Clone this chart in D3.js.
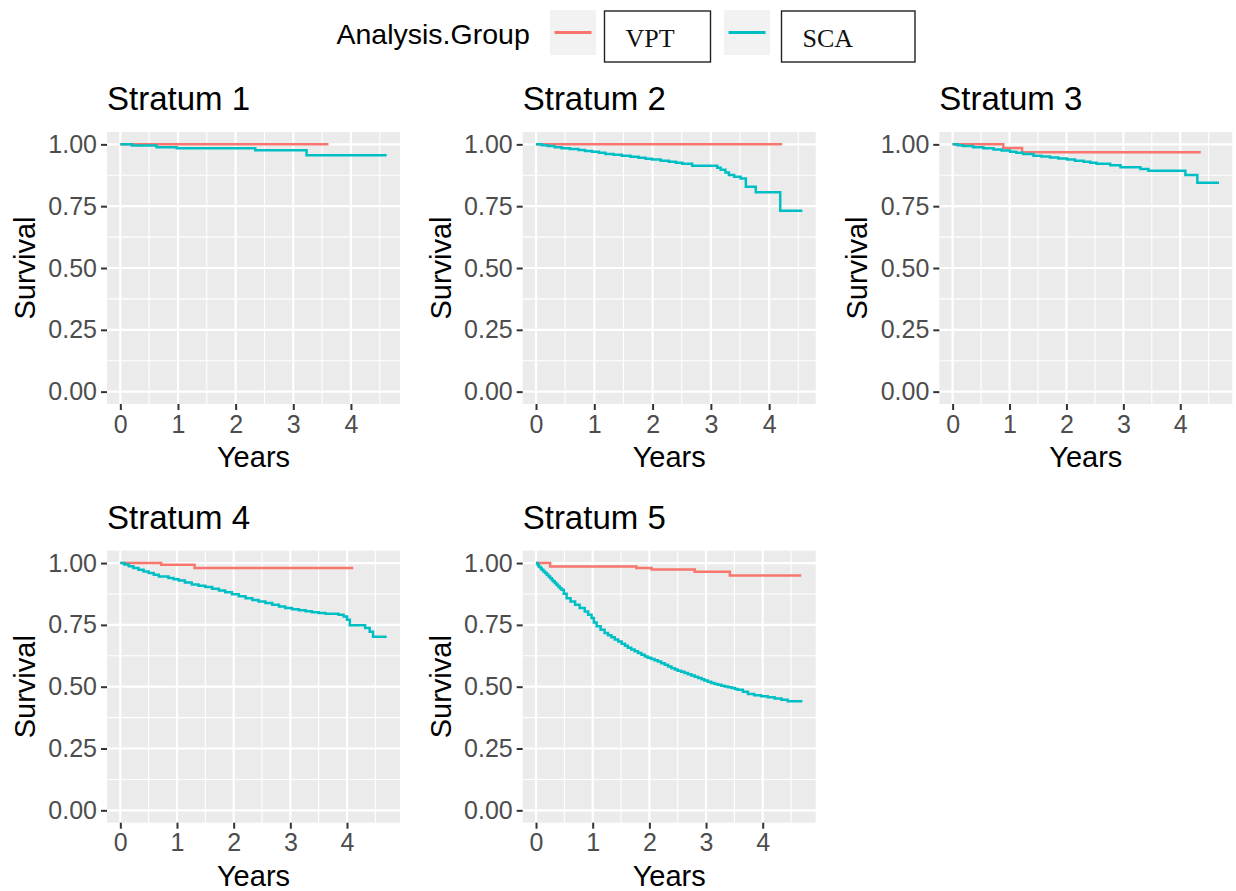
<!DOCTYPE html>
<html>
<head>
<meta charset="utf-8">
<script src="https://cdn.jsdelivr.net/npm/d3@7"></script>
<style>
  body { margin: 0; background: #fff; }
  text { font-family: "Liberation Sans", Arial, Helvetica, sans-serif; }
</style>
</head>
<body>
<svg id="chart" width="1236" height="891"></svg>
<script>
/// data ///
const strata = ["Stratum 1", "Stratum 2", "Stratum 3", "Stratum 4", "Stratum 5"];
const groups = ["VPT", "SCA"];
const groupColors = ["#F8766D", "#00BFC4"];
const xTicks = [0, 1, 2, 3, 4];
const yTicks = [0, 0.25, 0.5, 0.75, 1];
const yTickLabels = ["0.00", "0.25", "0.50", "0.75", "1.00"];

// [years, survival] step points
const vpt1 = [[0, 1], [3.61, 1]];
const sca1 = [[0, 1], [0.2, 0.995], [0.63, 0.988], [0.98, 0.984], [2.34, 0.976], [3.23, 0.956], [4.62, 0.956]];

const vpt2 = [[0, 1], [4.22, 1]];
const sca2 = [[0, 1], [0.1, 0.996], [0.2, 0.993], [0.32, 0.988], [0.44, 0.984], [0.58, 0.981], [0.73, 0.977],
  [0.84, 0.973], [0.96, 0.970], [1.08, 0.966], [1.19, 0.961], [1.33, 0.958], [1.47, 0.954], [1.62, 0.950],
  [1.76, 0.946], [1.88, 0.942], [1.99, 0.939], [2.14, 0.934], [2.28, 0.930], [2.40, 0.926], [2.51, 0.922],
  [2.68, 0.914], [3.11, 0.905], [3.17, 0.897], [3.25, 0.886], [3.31, 0.876], [3.40, 0.869], [3.51, 0.862],
  [3.60, 0.829], [3.77, 0.806], [4.19, 0.732], [4.57, 0.732]];

const vpt3 = [[0, 1], [0.89, 0.985], [1.22, 0.968], [4.36, 0.968]];
const sca3 = [[0, 1], [0.09, 0.996], [0.18, 0.993], [0.36, 0.988], [0.54, 0.984], [0.72, 0.979], [0.86, 0.975],
  [1.01, 0.970], [1.12, 0.966], [1.24, 0.961], [1.42, 0.954], [1.56, 0.951], [1.71, 0.947], [1.86, 0.943],
  [2.01, 0.939], [2.15, 0.934], [2.30, 0.930], [2.42, 0.926], [2.53, 0.922], [2.77, 0.916], [2.95, 0.907],
  [3.30, 0.900], [3.44, 0.893], [4.09, 0.876], [4.30, 0.845], [4.68, 0.845]];

const vpt4 = [[0, 1], [0.72, 0.993], [1.31, 0.980], [4.11, 0.980]];
const sca4 = [[0, 1], [0.07, 0.994], [0.15, 0.987], [0.23, 0.980], [0.32, 0.973], [0.41, 0.966], [0.50, 0.960],
  [0.59, 0.953], [0.68, 0.946], [0.85, 0.940], [0.94, 0.935], [1.03, 0.929], [1.14, 0.921], [1.26, 0.913],
  [1.38, 0.908], [1.50, 0.903], [1.62, 0.896], [1.74, 0.889], [1.85, 0.882], [1.97, 0.874], [2.09, 0.866],
  [2.21, 0.858], [2.33, 0.851], [2.44, 0.845], [2.56, 0.838], [2.68, 0.831], [2.80, 0.824], [2.91, 0.818],
  [3.03, 0.813], [3.15, 0.809], [3.27, 0.805], [3.38, 0.801], [3.50, 0.798], [3.62, 0.795], [3.85, 0.791],
  [3.94, 0.784], [4.00, 0.771], [4.05, 0.749], [4.32, 0.737], [4.40, 0.722], [4.46, 0.702], [4.70, 0.702]];

const vpt5 = [[0, 1], [0.25, 0.986], [1.77, 0.980], [2.04, 0.974], [2.80, 0.965], [3.42, 0.950], [4.68, 0.950]];
const sca5 = [[0, 1], [0.03, 0.992], [0.05, 0.985], [0.08, 0.979], [0.10, 0.973], [0.13, 0.966], [0.16, 0.960],
  [0.19, 0.953], [0.22, 0.946], [0.25, 0.939], [0.28, 0.932], [0.30, 0.926], [0.33, 0.919], [0.36, 0.912],
  [0.39, 0.905], [0.42, 0.898], [0.45, 0.892], [0.49, 0.876], [0.54, 0.858], [0.61, 0.845], [0.69, 0.831],
  [0.77, 0.818], [0.86, 0.804], [0.92, 0.791], [0.98, 0.778], [1.02, 0.760], [1.07, 0.744], [1.14, 0.730],
  [1.21, 0.717], [1.27, 0.708], [1.33, 0.700], [1.39, 0.691], [1.45, 0.683], [1.51, 0.674], [1.57, 0.666],
  [1.62, 0.658], [1.68, 0.650], [1.74, 0.643], [1.80, 0.636], [1.86, 0.629], [1.92, 0.622], [1.97, 0.617],
  [2.03, 0.612], [2.09, 0.607], [2.15, 0.602], [2.21, 0.595], [2.27, 0.589], [2.33, 0.582], [2.39, 0.575],
  [2.45, 0.570], [2.50, 0.565], [2.56, 0.560], [2.62, 0.555], [2.68, 0.550], [2.74, 0.545], [2.80, 0.540],
  [2.86, 0.535], [2.92, 0.530], [2.97, 0.525], [3.03, 0.520], [3.09, 0.515], [3.15, 0.511], [3.21, 0.508],
  [3.27, 0.504], [3.33, 0.501], [3.39, 0.498], [3.45, 0.495], [3.51, 0.491], [3.56, 0.488], [3.65, 0.480],
  [3.74, 0.470], [3.85, 0.465], [3.97, 0.461], [4.09, 0.457], [4.21, 0.452], [4.33, 0.447], [4.44, 0.441],
  [4.70, 0.441]];

const curves = [[vpt1, sca1], [vpt2, sca2], [vpt3, sca3], [vpt4, sca4], [vpt5, sca5]];

/// layout ///
const panelW = 293, panelH = 272;
const panelPos = [[107, 132], [522.7, 132], [939.3, 132], [107, 550.7], [522.7, 550.7]];

const svg = d3.select("#chart");

strata.forEach((name, i) => {
  const [px, py] = panelPos[i];
  const series = curves[i];
  const xMax = d3.max(series, s => d3.max(s, d => d[0]));

  const xScale = d3.scaleLinear().domain([-0.05 * xMax, 1.05 * xMax]).range([0, panelW]);
  const yScale = d3.scaleLinear().domain([-0.05, 1.05]).range([panelH, 0]);

  const g = svg.append("g").attr("transform", `translate(${px},${py})`);

  // panel background + grid
  g.append("rect").attr("width", panelW).attr("height", panelH).attr("fill", "#EBEBEB");

  const xMinor = xTicks.map(t => t + 0.5).filter(t => t < xScale.domain()[1]);
  const yMinor = yTicks.slice(0, -1).map(t => t + 0.125);

  g.selectAll(".xminor").data(xMinor).join("line")
    .attr("x1", d => xScale(d)).attr("x2", d => xScale(d))
    .attr("y1", 0).attr("y2", panelH)
    .attr("stroke", "#fff").attr("stroke-width", 1.1);
  g.selectAll(".yminor").data(yMinor).join("line")
    .attr("y1", d => yScale(d)).attr("y2", d => yScale(d))
    .attr("x1", 0).attr("x2", panelW)
    .attr("stroke", "#fff").attr("stroke-width", 1.1);
  g.selectAll(".xmajor").data(xTicks).join("line")
    .attr("x1", d => xScale(d)).attr("x2", d => xScale(d))
    .attr("y1", 0).attr("y2", panelH)
    .attr("stroke", "#fff").attr("stroke-width", 2.2);
  g.selectAll(".ymajor").data(yTicks).join("line")
    .attr("y1", d => yScale(d)).attr("y2", d => yScale(d))
    .attr("x1", 0).attr("x2", panelW)
    .attr("stroke", "#fff").attr("stroke-width", 2.2);

  // survival curves
  const line = d3.line()
    .x(d => xScale(d[0]))
    .y(d => yScale(d[1]))
    .curve(d3.curveStepAfter);

  series.forEach((s, k) => {
    g.append("path")
      .datum(s)
      .attr("d", line)
      .attr("fill", "none")
      .attr("stroke", groupColors[k])
      .attr("stroke-width", 2.5);
  });

  // axes
  const xAxis = d3.axisBottom(xScale).tickValues(xTicks).tickFormat(d3.format("d"))
    .tickSize(6).tickPadding(5);
  const yAxis = d3.axisLeft(yScale).tickValues(yTicks).tickFormat((d, j) => yTickLabels[j])
    .tickSize(6).tickPadding(4);

  const gx = g.append("g").attr("transform", `translate(0,${panelH})`).call(xAxis);
  const gy = g.append("g").call(yAxis);
  [gx, gy].forEach(a => {
    a.select(".domain").remove();
    a.selectAll(".tick line").attr("stroke", "#333").attr("stroke-width", 2);
    a.selectAll(".tick text").attr("fill", "#4D4D4D").style("font-size", "25px")
      .style("font-family", "'Liberation Sans', Arial, sans-serif");
  });

  // titles
  g.append("text").attr("x", 0).attr("y", -22)
    .style("font-size", "33px").attr("fill", "#000").text(name);
  g.append("text").attr("x", panelW / 2).attr("y", panelH + 63)
    .attr("text-anchor", "middle").style("font-size", "29px").text("Years");
  g.append("text")
    .attr("transform", `translate(-72,${panelH / 2}) rotate(-90)`)
    .attr("text-anchor", "middle").style("font-size", "29px").text("Survival");
});

/// legend ///
const legend = svg.append("g");
legend.append("text").attr("x", 336.5).attr("y", 43.5)
  .style("font-size", "28.5px").attr("fill", "#000").text("Analysis.Group");

const keyX = [550, 724];
const boxX = [604.5, 781.5];
const boxW = [106, 133.5];
groups.forEach((grp, k) => {
  legend.append("rect").attr("x", keyX[k]).attr("y", 10).attr("width", 46).attr("height", 45)
    .attr("fill", "#F2F2F2");
  legend.append("line").attr("x1", keyX[k] + 4.5).attr("x2", keyX[k] + 41.5)
    .attr("y1", 32.5).attr("y2", 32.5)
    .attr("stroke", groupColors[k]).attr("stroke-width", 3);
  legend.append("rect").attr("x", boxX[k]).attr("y", 11).attr("width", boxW[k]).attr("height", 51)
    .attr("fill", "#fff").attr("stroke", "#222").attr("stroke-width", 1.4);
  legend.append("text").attr("x", boxX[k] + 21).attr("y", 46.5)
    .style("font-family", "'Liberation Serif', 'Times New Roman', serif")
    .style("font-size", "26px").attr("fill", "#111").text(grp);
});
</script>
</body>
</html>
